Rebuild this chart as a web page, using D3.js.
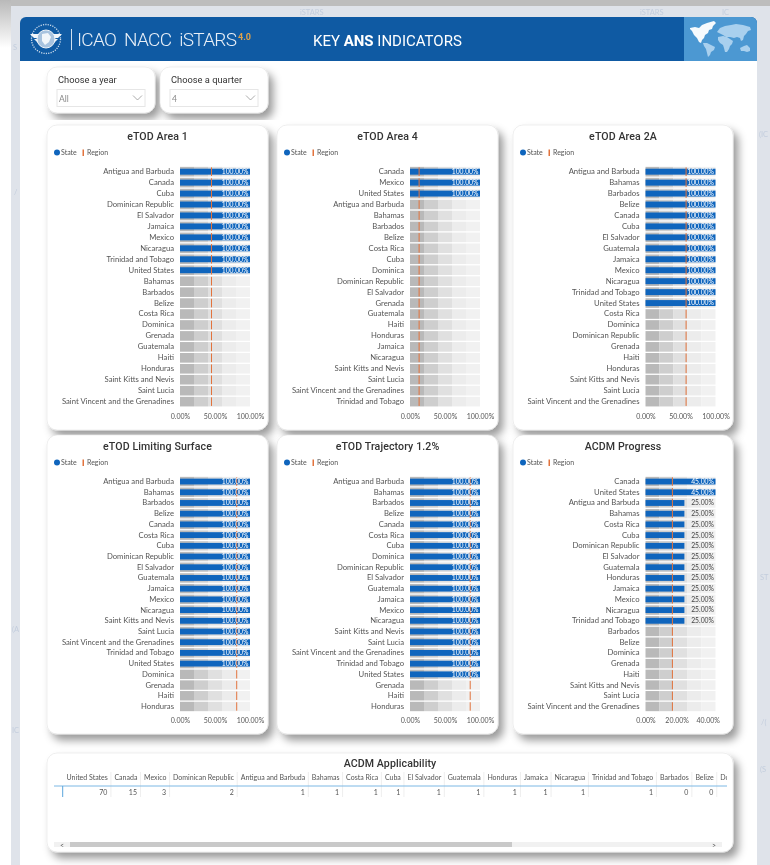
<!DOCTYPE html>
<html>
<head>
<meta charset="utf-8">
<script src="https://cdn.jsdelivr.net/npm/d3@7"></script>
<style>
  html, body { margin: 0; padding: 0; background: #fff; overflow: hidden; }
  svg { display: block; filter: blur(0.35px); }
  text { font-family: Lato, sans-serif; }
  .din { font-family: Roboto, sans-serif; white-space: pre; }
  .axis path, .axis line { display: none; }
</style>
</head>
<body>
<div id="page"></div>
<script>
// chart values
const area1Countries = ["Antigua and Barbuda", "Canada", "Cuba", "Dominican Republic", "El Salvador", "Jamaica", "Mexico", "Nicaragua", "Trinidad and Tobago", "United States", "Bahamas", "Barbados", "Belize", "Costa Rica", "Dominica", "Grenada", "Guatemala", "Haiti", "Honduras", "Saint Kitts and Nevis", "Saint Lucia", "Saint Vincent and the Grenadines"];
const area1State = [100, 100, 100, 100, 100, 100, 100, 100, 100, 100, 0, 0, 0, 0, 0, 0, 0, 0, 0, 0, 0, 0];

const area4Countries = ["Canada", "Mexico", "United States", "Antigua and Barbuda", "Bahamas", "Barbados", "Belize", "Costa Rica", "Cuba", "Dominica", "Dominican Republic", "El Salvador", "Grenada", "Guatemala", "Haiti", "Honduras", "Jamaica", "Nicaragua", "Saint Kitts and Nevis", "Saint Lucia", "Saint Vincent and the Grenadines", "Trinidad and Tobago"];
const area4State = [100, 100, 100, 0, 0, 0, 0, 0, 0, 0, 0, 0, 0, 0, 0, 0, 0, 0, 0, 0, 0, 0];

const area2aCountries = ["Antigua and Barbuda", "Bahamas", "Barbados", "Belize", "Canada", "Cuba", "El Salvador", "Guatemala", "Jamaica", "Mexico", "Nicaragua", "Trinidad and Tobago", "United States", "Costa Rica", "Dominica", "Dominican Republic", "Grenada", "Haiti", "Honduras", "Saint Kitts and Nevis", "Saint Lucia", "Saint Vincent and the Grenadines"];
const area2aState = [100, 100, 100, 100, 100, 100, 100, 100, 100, 100, 100, 100, 100, 0, 0, 0, 0, 0, 0, 0, 0, 0];

const limitingCountries = ["Antigua and Barbuda", "Bahamas", "Barbados", "Belize", "Canada", "Costa Rica", "Cuba", "Dominican Republic", "El Salvador", "Guatemala", "Jamaica", "Mexico", "Nicaragua", "Saint Kitts and Nevis", "Saint Lucia", "Saint Vincent and the Grenadines", "Trinidad and Tobago", "United States", "Dominica", "Grenada", "Haiti", "Honduras"];
const limitingState = [100, 100, 100, 100, 100, 100, 100, 100, 100, 100, 100, 100, 100, 100, 100, 100, 100, 100, 0, 0, 0, 0];

const trajectoryCountries = ["Antigua and Barbuda", "Bahamas", "Barbados", "Belize", "Canada", "Costa Rica", "Cuba", "Dominica", "Dominican Republic", "El Salvador", "Guatemala", "Jamaica", "Mexico", "Nicaragua", "Saint Kitts and Nevis", "Saint Lucia", "Saint Vincent and the Grenadines", "Trinidad and Tobago", "United States", "Grenada", "Haiti", "Honduras"];
const trajectoryState = [100, 100, 100, 100, 100, 100, 100, 100, 100, 100, 100, 100, 100, 100, 100, 100, 100, 100, 100, 0, 0, 0];

const acdmCountries = ["Canada", "United States", "Antigua and Barbuda", "Bahamas", "Costa Rica", "Cuba", "Dominican Republic", "El Salvador", "Guatemala", "Honduras", "Jamaica", "Mexico", "Nicaragua", "Trinidad and Tobago", "Barbados", "Belize", "Dominica", "Grenada", "Haiti", "Saint Kitts and Nevis", "Saint Lucia", "Saint Vincent and the Grenadines"];
const acdmState = [45, 45, 25, 25, 25, 25, 25, 25, 25, 25, 25, 25, 25, 25, 0, 0, 0, 0, 0, 0, 0, 0];

const applicabilityHeaders = ["United States", "Canada", "Mexico", "Dominican Republic", "Antigua and Barbuda", "Bahamas", "Costa Rica", "Cuba", "El Salvador", "Guatemala", "Honduras", "Jamaica", "Nicaragua", "Trinidad and Tobago", "Barbados", "Belize", "Dominica"];
const applicabilityValues = [70, 15, 3, 2, 1, 1, 1, 1, 1, 1, 1, 1, 1, 1, 0, 0, 0];

const slicerLabels = ["Choose a year", "Choose a quarter"];
const slicerValues = ["All", "4"];
const legendLabels = ["State", "Region"];
const watermarks = ["iSTARS", "iSTARS", "IC", "S", "/", "(A", "IC", "(IC", "ST", "/(", "(S"];

const width = 770, height = 865;
const blue = "#0f65bd", orange = "#e2733d", textGrey = "#555";
const bandShades = ["#b9b9b9", "#cecece", "#e0e0e0", "#ececec", "#f1f1f1"];

const svg = d3.select("#page").append("svg").attr("width", width).attr("height", height);
const defs = svg.append("defs");

const shadow = defs.append("filter").attr("id", "cardShadow")
  .attr("x", "-10%").attr("y", "-10%").attr("width", "125%").attr("height", "125%");
shadow.append("feDropShadow").attr("dx", 5).attr("dy", 6).attr("stdDeviation", 4)
  .attr("flood-color", "#000").attr("flood-opacity", 0.4);

const topFade = defs.append("linearGradient").attr("id", "topFade")
  .attr("x1", 0).attr("y1", 0).attr("x2", 0).attr("y2", 1);
topFade.append("stop").attr("offset", 0).attr("stop-color", "#b9b9b9");
topFade.append("stop").attr("offset", 1).attr("stop-color", "#ffffff");

// page background
svg.append("rect").attr("width", width).attr("height", height).attr("fill", "#fff");
svg.append("rect").attr("width", 12).attr("height", 48).attr("fill", "url(#topFade)");
svg.append("rect").attr("x", 11).attr("y", 6).attr("width", width - 11).attr("height", height).attr("fill", "#dfe3ea");
svg.append("rect").attr("x", 11).attr("width", width - 11).attr("height", 6).attr("fill", "#bdbdbd");

const markAt = [[300, 15], [640, 15], [722, 15], [13, 50], [14, 195], [12, 632], [12, 733], [759, 137], [760, 580], [761, 725], [760, 772]];
svg.selectAll(".mark").data(watermarks).enter().append("text")
  .attr("class", "mark")
  .attr("x", (d, i) => markAt[i][0])
  .attr("y", (d, i) => markAt[i][1])
  .attr("font-size", 7.5)
  .attr("fill", "#c3cddd")
  .text(d => d);

svg.append("rect").attr("x", 20).attr("y", 50).attr("width", 737).attr("height", height - 50).attr("fill", "#fff");

// header bar
const header = svg.append("g");
header.append("path").attr("d", "M20 61V23a6 6 0 0 1 6-6H751a6 6 0 0 1 6 6V61Z").attr("fill", "#0f5aa3");
header.append("path").attr("d", "M684 17H751a6 6 0 0 1 6 6V61H684Z").attr("fill", "#4c98d2");

// world map, rough outline only
const land = [
  "M690 28l5 -1 4 1 3 -3 5 -2 7 -2 2 2 -3 3 -1 3 -3 1 -1 3 -3 2 -1 3 -2 2 -1 3 -2 -1 -2 -4 -3 -3 -2 -4 -2 -2Z",
  "M703 43l4 0 4 2 4 2 -1 3 -3 2 -1 3 -2 2 -1 -4 -1 -4 -2 -3Z",
  "M717 32l3 -4 5 -2 6 -1 5 -1 7 1 7 2 1 3 -3 1 -2 3 -2 2 -1 4 -2 1 -1 -3 -3 -1 -3 1 -4 -1 -4 0 -3 -2 -2 -1Z",
  "M718 37l5 -1 4 1 3 2 3 2 -1 3 -2 2 -1 3 -2 3 -2 0 -1 -4 -1 -3 -3 -2 -2 -3Z",
  "M740 48l4 -2 3 -1 3 3 0 3 -3 1 -3 -1 -3 0Z"
];
header.selectAll(".land").data(land).enter().append("path")
  .attr("class", "land").attr("d", d => d)
  .attr("fill", (d, i) => i < 1 ? "#f6fafd" : "#a9d0ee");

// ICAO emblem
const emblem = header.append("g");
emblem.append("circle").attr("cx", 46).attr("cy", 39).attr("r", 14.5).attr("fill", "none").attr("stroke", "#cddcec").attr("stroke-width", 1.3).attr("stroke-dasharray", "1.2 1.2");
emblem.append("path").attr("d", "M30 34H62L58 38H34ZM34 39H58L54 43H38Z").attr("fill", "#f2f6fa");
emblem.append("circle").attr("cx", 46).attr("cy", 39).attr("r", 9).attr("fill", "#a8c3df").attr("stroke", "#f2f6fa").attr("stroke-width", 1);
emblem.append("path").attr("d", "M42 34l6 -1 3 4 -2 5 -4 3 -3 -4Z").attr("fill", "#f2f6fa");
header.append("line").attr("x1", 71.5).attr("x2", 71.5).attr("y1", 29).attr("y2", 50).attr("stroke", "#cfe0f0");
header.append("text").attr("class", "din").attr("x", 77).attr("y", 46).attr("font-size", 19).attr("font-weight", 300)
  .attr("fill", "#e8eff7").attr("textLength", 160).attr("lengthAdjust", "spacing").text("ICAO\u00a0\u00a0NACC\u00a0\u00a0iSTARS");
header.append("text").attr("class", "din").attr("x", 238).attr("y", 40).attr("font-size", 9).attr("font-weight", 700)
  .attr("fill", "#e0a24a").text("4.0");
const keyTitle = header.append("text").attr("class", "din").attr("x", 313).attr("y", 46).attr("font-size", 15).attr("fill", "#fff");
keyTitle.append("tspan").text("KEY ");
keyTitle.append("tspan").attr("font-weight", 700).text("ANS");
keyTitle.append("tspan").text(" INDICATORS");

function drawCard(x, y, w, h) {
  return svg.append("rect").attr("x", x).attr("y", y).attr("width", w).attr("height", h)
    .attr("rx", 10).attr("fill", "#fff").attr("stroke", "#e4e4e4").attr("stroke-width", 0.6)
    .attr("filter", "url(#cardShadow)");
}

// slicers
const slicerX = d3.scalePoint().domain(slicerLabels).range([47, 160]);
slicerLabels.forEach((label, i) => {
  const x0 = slicerX(label);
  drawCard(x0, 67, 108, 46);
  svg.append("text").attr("class", "din").attr("x", x0 + 11).attr("y", 83).attr("font-size", 9.3)
    .attr("fill", "#333").text(label);
  svg.append("rect").attr("x", x0 + 10).attr("y", 89.5).attr("width", 88).attr("height", 17)
    .attr("fill", "#fff").attr("stroke", "#e6e6e6");
  svg.append("text").attr("x", x0 + 12).attr("y", 102).attr("font-size", 8.5).attr("fill", "#888").text(slicerValues[i]);
  svg.append("path").attr("d", `M${x0 + 86} 95.5l4.5 4.5 4.5 -4.5`).attr("fill", "none").attr("stroke", "#888").attr("stroke-width", 0.7);
});

// one bullet chart card: title, legend, grey bands, state bar, region tick, labels
function bulletChart(opts) {
  drawCard(opts.x, opts.y, opts.w, opts.h);
  const chart = svg.append("g");
  chart.append("text").attr("class", "din").attr("x", opts.x + opts.w / 2).attr("y", opts.y + 14.5)
    .attr("text-anchor", "middle").attr("font-size", 10.6).attr("letter-spacing", 0.1)
    .attr("font-weight", 500).attr("fill", "#333").text(opts.title);

  const ly = opts.y + 28;
  chart.append("circle").attr("cx", opts.x + 10).attr("cy", ly - 0.5).attr("r", 3).attr("fill", blue);
  chart.append("text").attr("x", opts.x + 14).attr("y", ly + 2.2).attr("font-size", 7).attr("fill", textGrey).text(legendLabels[0]);
  chart.append("rect").attr("x", opts.x + 35.5).attr("y", ly - 3.5).attr("width", 1.5).attr("height", 6.5).attr("fill", orange);
  chart.append("text").attr("x", opts.x + 40).attr("y", ly + 2.2).attr("font-size", 7).attr("fill", textGrey).text(legendLabels[1]);

  const x = d3.scaleLinear().domain([0, opts.max]).range([opts.left, opts.left + 70]);
  const y = d3.scaleBand().domain(opts.countries)
    .range([opts.y + 41.2, opts.y + 41.2 + opts.pitch * opts.countries.length])
    .paddingInner(0.12).paddingOuter(0.06);

  const rows = chart.selectAll(".row").data(opts.countries.map((c, i) => ({ country: c, value: opts.state[i] })))
    .enter().append("g").attr("class", "row").attr("transform", d => `translate(0,${y(d.country)})`);

  bandShades.forEach((shade, i) => {
    rows.append("rect")
      .attr("x", x(opts.max * i / 5)).attr("width", x(opts.max / 5) - x(0))
      .attr("height", y.bandwidth()).attr("fill", shade);
  });

  const barH = y.bandwidth() * 0.62;
  rows.append("rect")
    .attr("x", x(0)).attr("y", (y.bandwidth() - barH) / 2)
    .attr("width", d => x(d.value) - x(0)).attr("height", barH).attr("fill", blue);

  rows.append("rect")
    .attr("x", x(opts.region) - 0.5).attr("width", 1).attr("y", 0.5)
    .attr("height", y.bandwidth() - 1).attr("fill", orange);

  rows.filter(d => d.value > 0).append("text")
    .attr("x", x(opts.max) - 1.5).attr("y", y.bandwidth() / 2 + 2.4)
    .attr("text-anchor", "end").attr("font-size", 6.8)
    .attr("fill", d => d.value >= opts.max ? "#fff" : "#444")
    .text(d => d3.format(".2f")(d.value) + "%");

  chart.append("g").attr("class", "axis")
    .attr("transform", `translate(${opts.left - 3},0)`)
    .call(d3.axisLeft(y).tickSize(0).tickPadding(3))
    .call(s => s.selectAll("text").attr("font-size", 7.7).attr("fill", textGrey));

  chart.append("g").attr("class", "axis")
    .attr("transform", `translate(0,${opts.axisY})`)
    .call(d3.axisBottom(x).tickValues(opts.ticks).tickSize(0).tickPadding(0).tickFormat(d => d3.format(".2f")(d) + "%"))
    .call(s => s.selectAll("text").attr("font-size", 7).attr("fill", textGrey));
}

const topRow = { y: 125, h: 305, pitch: 10.95, axisY: 414 };
const bottomRow = { y: 435, h: 299, pitch: 10.71, axisY: 718.5 };
bulletChart({ ...topRow, title: "eTOD Area 1", x: 47, w: 221, left: 180, countries: area1Countries, state: area1State, region: 45, max: 100, ticks: [0, 50, 100] });
bulletChart({ ...topRow, title: "eTOD Area 4", x: 277, w: 221, left: 410, countries: area4Countries, state: area4State, region: 13, max: 100, ticks: [0, 50, 100] });
bulletChart({ ...topRow, title: "eTOD Area 2A", x: 513, w: 220, left: 645.5, countries: area2aCountries, state: area2aState, region: 58, max: 100, ticks: [0, 50, 100] });
bulletChart({ ...bottomRow, title: "eTOD Limiting Surface", x: 47, w: 221, left: 180, countries: limitingCountries, state: limitingState, region: 81, max: 100, ticks: [0, 50, 100] });
bulletChart({ ...bottomRow, title: "eTOD Trajectory 1.2%", x: 277, w: 221, left: 410, countries: trajectoryCountries, state: trajectoryState, region: 86, max: 100, ticks: [0, 50, 100] });
bulletChart({ ...bottomRow, title: "ACDM Progress", x: 513, w: 220, left: 645.5, countries: acdmCountries, state: acdmState, region: 17.3, max: 45, ticks: [0, 20, 40] });

// applicability table
drawCard(47, 753, 686, 99);
svg.append("text").attr("class", "din").attr("x", 390).attr("y", 766.5).attr("text-anchor", "middle")
  .attr("font-size", 10.6).attr("letter-spacing", 0.1).attr("font-weight", 500).attr("fill", "#333").text("ACDM Applicability");

defs.append("clipPath").attr("id", "tableClip").append("rect").attr("x", 53).attr("y", 770).attr("width", 674).attr("height", 40);
const table = svg.append("g").attr("clip-path", "url(#tableClip)");

let colX = 63;
applicabilityHeaders.forEach((name, i) => {
  const head = table.append("text").attr("x", colX + 3.5).attr("y", 780).attr("font-size", 7).attr("fill", textGrey).text(name);
  const colW = head.node().getComputedTextLength() + 6.6;
  table.append("line").attr("x1", colX + colW).attr("x2", colX + colW).attr("y1", 772).attr("y2", 797).attr("stroke", "#e6e6e6").attr("stroke-width", 0.7);
  // the column running past the scroll edge has its value out of view
  if (colX + colW < 727) {
    table.append("text").attr("x", colX + colW - 3.5).attr("y", 795).attr("text-anchor", "end").attr("font-size", 7).attr("fill", textGrey).text(applicabilityValues[i]);
  }
  colX += colW;
});
svg.append("line").attr("x1", 54).attr("x2", 727).attr("y1", 786).attr("y2", 786).attr("stroke", "#7db8e4").attr("stroke-width", 1);
svg.append("line").attr("x1", 62.7).attr("x2", 62.7).attr("y1", 786).attr("y2", 797).attr("stroke", "#5ba6dc").attr("stroke-width", 1);

// scrollbar
svg.append("rect").attr("x", 54).attr("y", 842).attr("width", 668).attr("height", 5).attr("fill", "#f1f1f1");
svg.append("rect").attr("x", 70).attr("y", 842).attr("width", 442).attr("height", 5).attr("fill", "#c9c9c9");
svg.append("text").attr("x", 60).attr("y", 847.5).attr("font-size", 7).attr("fill", "#555").text("<");
svg.append("text").attr("x", 712).attr("y", 847.5).attr("font-size", 7).attr("fill", "#555").text(">");
</script>
</body>
</html>
